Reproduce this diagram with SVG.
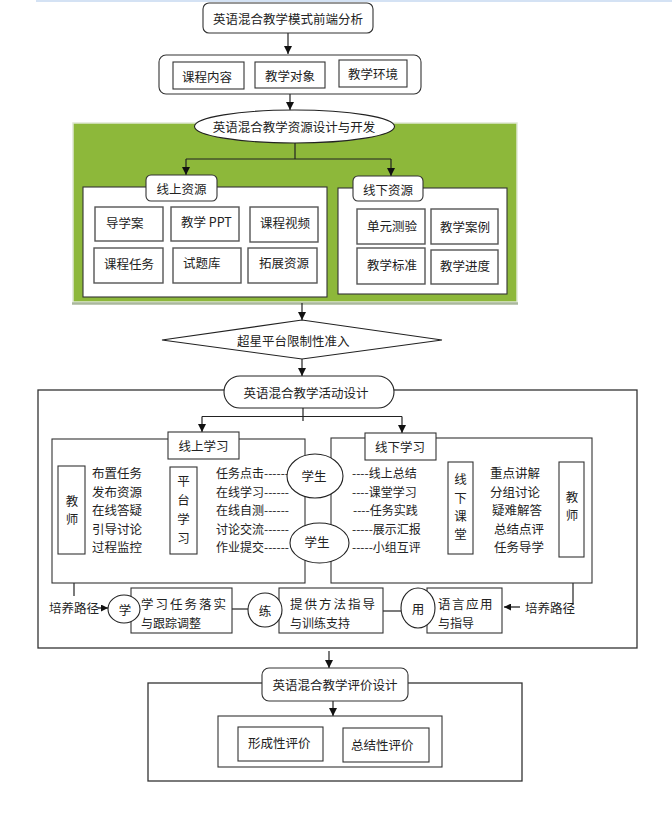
<svg xmlns="http://www.w3.org/2000/svg" width="672" height="819" viewBox="0 0 672 819">
<defs>
<marker id="ah" markerWidth="8" markerHeight="8" refX="8" refY="4" orient="auto" markerUnits="userSpaceOnUse">
<path d="M0,0 L8,4 L0,8 z" fill="#111"/>
</marker>
<marker id="ahs" markerWidth="7" markerHeight="7" refX="7" refY="3.5" orient="auto" markerUnits="userSpaceOnUse">
<path d="M0,0 L7,3.5 L0,7 z" fill="#111"/>
</marker>
</defs>
<style>
text{font-family:"Noto Sans CJK SC","Noto Sans CJK JP",sans-serif;font-size:12.5px;fill:#222;dominant-baseline:central}
.c{text-anchor:middle}
.box{fill:#fff;stroke:#333;stroke-width:1.1}
.gbox{fill:#fff;stroke:#555;stroke-width:1.4}
.ln{stroke:#222;stroke-width:1.2;fill:none}
.ar{stroke:#222;stroke-width:1.2;fill:none;marker-end:url(#ah)}
.ars{stroke:#222;stroke-width:1.3;fill:none;marker-end:url(#ahs)}
.sm{font-size:12px}
</style>
<rect width="672" height="819" fill="#fff"/>
<line x1="36" y1="1" x2="672" y2="1" stroke="#c6d9f0" stroke-width="1.5"/>

<g id="green-area">
<rect x="73" y="123" width="444" height="179" fill="#8db83a" stroke="#dfe8d3" stroke-width="1.5"/>
<line x1="72" y1="303.5" x2="518" y2="303.5" stroke="#aab79c" stroke-width="2.5"/>
</g>

<g id="activity-frame">
<rect x="38" y="390" width="599" height="258" fill="none" stroke="#333" stroke-width="1.3"/>
</g>
<g id="eval-frame">
<rect x="148" y="683" width="374" height="98" fill="none" stroke="#333" stroke-width="1.3"/>
</g>

<g id="connectors">
<line class="ar" x1="288" y1="33" x2="288" y2="54"/>
<line class="ar" x1="290" y1="94" x2="290" y2="110"/>
<polyline class="ln" points="295,143 295,159"/>
<line class="ln" x1="186" y1="159" x2="391" y2="159"/>
<line class="ar" x1="186" y1="159" x2="186" y2="175"/>
<line class="ar" x1="391" y1="159" x2="391" y2="176"/>
<line class="ar" x1="302" y1="303" x2="302" y2="320"/>
<line class="ar" x1="302" y1="359" x2="302" y2="376"/>
<line class="ln" x1="303" y1="408" x2="303" y2="421"/>
<line class="ln" x1="202" y1="416.5" x2="402" y2="416.5"/>
<line class="ar" x1="202" y1="416.5" x2="202" y2="432"/>
<line class="ar" x1="402" y1="416.5" x2="402" y2="433"/>
<line class="ars" x1="426" y1="472" x2="444" y2="472"/>
<line class="ars" x1="428" y1="491" x2="444" y2="491"/>
<line class="ars" x1="429" y1="509" x2="445" y2="509"/>
<line class="ars" x1="431" y1="528" x2="445" y2="528"/>
<line class="ars" x1="427" y1="546" x2="444" y2="546"/>
<line class="ln" x1="74" y1="583" x2="74" y2="596"/>
<line class="ln" x1="573" y1="557" x2="573" y2="605"/>
<line class="ars" x1="98" y1="608" x2="108" y2="608"/>
<line class="ln" x1="232" y1="609" x2="248" y2="609"/>
<line class="ln" x1="383" y1="611" x2="401" y2="611"/>
<line class="ars" x1="520" y1="607" x2="504" y2="607"/>
<line class="ar" x1="329" y1="651" x2="329" y2="668"/>
<line class="ar" x1="333" y1="701" x2="333" y2="716"/>
</g>

<g id="n-front">
<rect class="box" x="203" y="3" width="170" height="30" rx="6"/>
<text class="c" x="288" y="18">英语混合教学模式前端分析</text>
</g>

<g id="n-factors">
<rect class="box" x="159" y="55" width="262" height="39" rx="7"/>
<g id="n-content"><rect class="box" x="173" y="62" width="71" height="27"/><text x="182" y="76">课程内容</text></g>
<g id="n-object"><rect class="box" x="255" y="62" width="70" height="26"/><text x="265" y="75">教学对象</text></g>
<g id="n-env"><rect class="box" x="339" y="60" width="68" height="27"/><text x="348" y="73">教学环境</text></g>
</g>

<g id="n-resource">
<ellipse cx="294.5" cy="126.5" rx="100" ry="16.5" fill="#fff" stroke="#222" stroke-width="1.1"/>
<text class="c" x="294" y="126">英语混合教学资源设计与开发</text>
</g>

<g id="n-online-res">
<rect class="box" x="83" y="187" width="244" height="110"/>
<rect class="box" x="146" y="175" width="71" height="26" rx="5"/>
<text class="c" x="181.5" y="188">线上资源</text>
<g id="n-r1"><rect class="gbox" x="95" y="207" width="68" height="34"/><text x="106" y="222">导学案</text></g>
<g id="n-r2"><rect class="gbox" x="171" y="207" width="68" height="34"/><text x="181" y="221">教学 PPT</text></g>
<g id="n-r3"><rect class="gbox" x="250" y="207" width="68" height="35"/><text x="260" y="222">课程视频</text></g>
<g id="n-r4"><rect class="gbox" x="94" y="248" width="69" height="35"/><text x="104" y="263">课程任务</text></g>
<g id="n-r5"><rect class="gbox" x="173" y="248" width="68" height="35"/><text x="183" y="262">试题库</text></g>
<g id="n-r6"><rect class="gbox" x="248" y="248" width="69" height="35"/><text x="259" y="262">拓展资源</text></g>
</g>

<g id="n-offline-res">
<rect class="box" x="338" y="188" width="169" height="106"/>
<rect class="box" x="353" y="176" width="70" height="25" rx="5"/>
<text class="c" x="388" y="189">线下资源</text>
<g id="n-r7"><rect class="gbox" x="357" y="209" width="68" height="35"/><text x="367" y="225">单元测验</text></g>
<g id="n-r8"><rect class="gbox" x="431" y="209" width="67" height="35"/><text x="440" y="226">教学案例</text></g>
<g id="n-r9"><rect class="gbox" x="357" y="248" width="68" height="36"/><text x="367" y="264">教学标准</text></g>
<g id="n-r10"><rect class="gbox" x="431" y="250" width="67" height="34"/><text x="440" y="265">教学进度</text></g>
</g>

<g id="n-platform">
<polygon points="162,340 302,320 442,340 302,359" fill="#fff" stroke="#222" stroke-width="1.1"/>
<text x="237" y="340">超星平台限制性准入</text>
</g>

<g id="n-activity">
<rect x="224" y="376" width="170" height="32" rx="16" fill="#fff" stroke="#222" stroke-width="1.1"/>
<text class="c" x="306" y="392">英语混合教学活动设计</text>
</g>

<g id="n-online-learn">
<rect class="box" x="52" y="439" width="253" height="144"/>
<rect class="box" x="168" y="432" width="71" height="27"/>
<text class="c" x="203.5" y="445.5">线上学习</text>
<rect class="box" x="58" y="466" width="27" height="88"/>
<text class="c" x="72" y="500">教</text>
<text class="c" x="72" y="518">师</text>
<text x="92" y="472">布置任务</text>
<text x="92" y="491">发布资源</text>
<text x="92" y="509">在线答疑</text>
<text x="92" y="528">引导讨论</text>
<text x="92" y="546">过程监控</text>
<rect class="box" x="170" y="467" width="27" height="87"/>
<text class="c" x="183.5" y="480">平</text>
<text class="c" x="183.5" y="499">台</text>
<text class="c" x="183.5" y="518">学</text>
<text class="c" x="183.5" y="537">习</text>
<text class="sm" x="216" y="472">任务点击------</text>
<text class="sm" x="216" y="491">在线学习------</text>
<text class="sm" x="216" y="509">在线自测------</text>
<text class="sm" x="216" y="528">讨论交流------</text>
<text class="sm" x="216" y="546">作业提交------</text>
</g>

<g id="n-offline-learn">
<rect class="box" x="331" y="438" width="261" height="145"/>
<rect class="box" x="365" y="433" width="71" height="27"/>
<text class="c" x="400" y="446">线下学习</text>
<text class="sm" x="352" y="472">----线上总结</text>
<text class="sm" x="352" y="491">----课堂学习</text>
<text class="sm" x="353" y="509">----任务实践</text>
<text class="sm" x="352" y="528">-----展示汇报</text>
<text class="sm" x="352" y="546">-----小组互评</text>
<rect class="box" x="448" y="462" width="25" height="92"/>
<text class="c" x="460.5" y="478">线</text>
<text class="c" x="460.5" y="497">下</text>
<text class="c" x="460.5" y="515">课</text>
<text class="c" x="460.5" y="533">堂</text>
<text x="490" y="472">重点讲解</text>
<text x="490" y="491">分组讨论</text>
<text x="492" y="509">疑难解答</text>
<text x="494" y="528">总结点评</text>
<text x="494" y="546">任务导学</text>
<rect class="box" x="559" y="462" width="25" height="95"/>
<text class="c" x="572" y="496">教</text>
<text class="c" x="572" y="514">师</text>
</g>

<g id="n-student1">
<ellipse cx="315" cy="476" rx="28" ry="22" fill="#fff" stroke="#222" stroke-width="1.1"/>
<text class="c" x="314" y="475">学生</text>
</g>
<g id="n-student2">
<ellipse cx="319.5" cy="543" rx="29.5" ry="20" fill="#fff" stroke="#222" stroke-width="1.1"/>
<text class="c" x="317" y="541">学生</text>
</g>

<g id="n-path-left"><text x="49" y="607">培养路径</text></g>
<g id="n-path-right"><text x="525" y="607">培养路径</text></g>

<g id="n-learn">
<rect class="box" x="131" y="588" width="101" height="45"/>
<text x="141" y="603" style="letter-spacing:2px">学习任务落实</text>
<text class="sm" x="141" y="622">与跟踪调整</text>
<ellipse cx="124" cy="609" rx="16" ry="14" fill="#fff" stroke="#222" stroke-width="1.1"/>
<text class="c" x="125" y="609">学</text>
</g>
<g id="n-practice">
<rect class="box" x="279" y="588" width="104" height="45"/>
<text x="290" y="603" style="letter-spacing:2px">提供方法指导</text>
<text class="sm" x="290" y="622">与训练支持</text>
<ellipse cx="265" cy="610" rx="17" ry="17" fill="#fff" stroke="#222" stroke-width="1.1"/>
<text class="c" x="265" y="610">练</text>
</g>
<g id="n-use">
<rect class="box" x="427" y="588" width="75" height="45"/>
<text x="438" y="603" style="letter-spacing:1.5px">语言应用</text>
<text class="sm" x="438" y="622">与指导</text>
<ellipse cx="418" cy="608" rx="17" ry="20" fill="#fff" stroke="#222" stroke-width="1.1"/>
<text class="c" x="418" y="608">用</text>
</g>

<g id="n-eval">
<rect class="box" x="262" y="668" width="146" height="33" rx="7"/>
<text class="c" x="335" y="684">英语混合教学评价设计</text>
</g>
<g id="n-eval-types">
<rect class="box" x="218" y="716" width="224" height="51"/>
<g id="n-formative"><rect class="box" x="238" y="727" width="85" height="34"/><text x="248" y="742">形成性评价</text></g>
<g id="n-summative"><rect class="box" x="343" y="728" width="86" height="34"/><text x="351" y="744">总结性评价</text></g>
</g>
</svg>
